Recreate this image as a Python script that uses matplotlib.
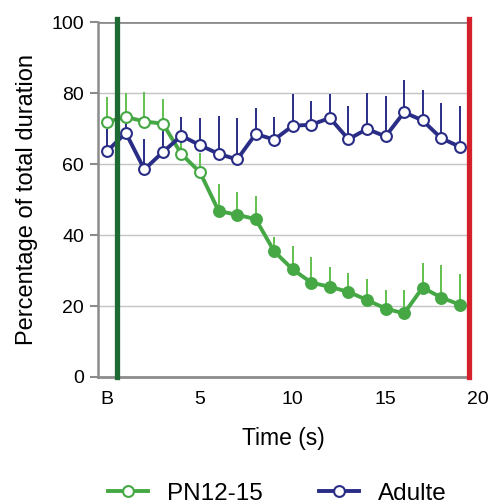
import matplotlib
matplotlib.use("Agg")
import matplotlib.pyplot as plt
import numpy as np

plt.rcParams['font.family'] = ['Liberation Sans', 'DejaVu Sans']

# x positions: B (baseline) then 1..19 s
time_idx = np.arange(20)
tick_pos = [0, 5, 10, 15]
tick_lab = ["B", "5", "10", "15"]

# PN12-15 mean and upper error-bar end (% of total duration)
pn_mean = [71.9, 73.3, 72.0, 71.4, 62.8, 57.7, 46.8, 45.7, 44.5, 35.4,
           30.3, 26.6, 25.4, 24.0, 21.7, 19.3, 17.9, 25.2, 22.4, 20.4]
pn_top = [78.8, 80.1, 80.4, 78.3, 71.2, 63.0, 54.5, 52.2, 51.1, 39.4,
          36.9, 33.8, 31.0, 29.2, 27.5, 24.4, 24.6, 32.0, 31.5, 29.1]
pn_open = 6  # first points drawn with open markers

# Adulte
ad_mean = [63.7, 68.8, 58.5, 63.4, 68.0, 65.3, 62.9, 61.3, 68.5, 66.9,
           70.8, 71.1, 73.0, 67.0, 69.9, 67.8, 74.6, 72.3, 67.3, 64.9]
ad_top = [70.0, 74.7, 67.2, 71.3, 73.4, 73.1, 73.6, 72.9, 75.7, 73.3,
          79.7, 77.9, 79.7, 76.4, 80.1, 79.2, 83.7, 80.8, 77.1, 76.3]

green = "#45a845"
green_bar = "#62c04f"
navy = "#2a2d86"

fig = plt.figure(figsize=(4.91, 5.04), dpi=100)
ax = fig.add_axes([0.1996, 0.252, 0.7556, 0.704])

ax.set_xlim(-0.5, 19.5)
ax.set_ylim(0, 100)

for v in [20, 40, 60, 80]:
    ax.axhline(v, color="#c4c4c4", lw=1.0, zorder=0)
ax.axhline(100, color="#8c8c8c", lw=2.0, zorder=1)

# error bars (upper only)
ax.vlines(time_idx, pn_mean, pn_top, color=green_bar, lw=1.4, zorder=2)
ax.vlines(time_idx, ad_mean, ad_top, color=navy, lw=1.4, zorder=3)

ax.plot(time_idx, pn_mean, color=green, lw=2.8, zorder=4)
ax.plot(time_idx[:pn_open], pn_mean[:pn_open], "o", ms=7.8, mfc="white",
        mec=green, mew=1.5, zorder=5)
ax.plot(time_idx[pn_open:], pn_mean[pn_open:], "o", ms=7.8, mfc=green,
        mec=green, mew=1.5, zorder=5)
ax.plot(time_idx, ad_mean, color=navy, lw=2.8, marker="o", ms=7.8,
        mfc="white", mec=navy, mew=1.5, zorder=6)

# stimulus onset / offset
ax.axvline(0.5, ymin=0, ymax=1.01, color="#1e6a35", lw=3.8, zorder=8, clip_on=False)
ax.axvline(19.5, ymin=0, ymax=1.01, color="#d4202a", lw=3.8, zorder=8, clip_on=False)

for s in ["top", "right"]:
    ax.spines[s].set_visible(False)
ax.spines["left"].set_color("#8c8c8c")
ax.spines["left"].set_linewidth(1.8)
ax.spines["bottom"].set_color("#8c8c8c")
ax.spines["bottom"].set_linewidth(2.0)

ax.set_yticks([0, 20, 40, 60, 80, 100])
ax.tick_params(axis="y", color="#8c8c8c", length=6, width=1.5, labelsize=14, pad=4)
ax.set_xticks(tick_pos)
ax.set_xticklabels(tick_lab)
ax.tick_params(axis="x", length=0, labelsize=14, pad=10)
ax.text(20, -0.04, "20", transform=ax.get_xaxis_transform(), ha="center",
        va="top", fontsize=14, clip_on=False)

ax.set_xlabel("Time (s)", fontsize=16.5, labelpad=14)
ax.set_ylabel("Percentage of total duration", fontsize=17, labelpad=10)

h1, = ax.plot([], [], color=green, lw=2.8, marker="o", ms=7.8, mfc="white", mec=green, mew=1.5)
h2, = ax.plot([], [], color=navy, lw=2.8, marker="o", ms=7.8, mfc="white", mec=navy, mew=1.5)
fig.legend([h1, h2], ["PN12-15", "Adulte"], loc="lower center", ncol=2,
           frameon=False, fontsize=17.5, handlelength=1.65, handletextpad=0.8,
           columnspacing=2.3, bbox_to_anchor=(0.565, -0.045))

fig.savefig("out.png", dpi=100)
